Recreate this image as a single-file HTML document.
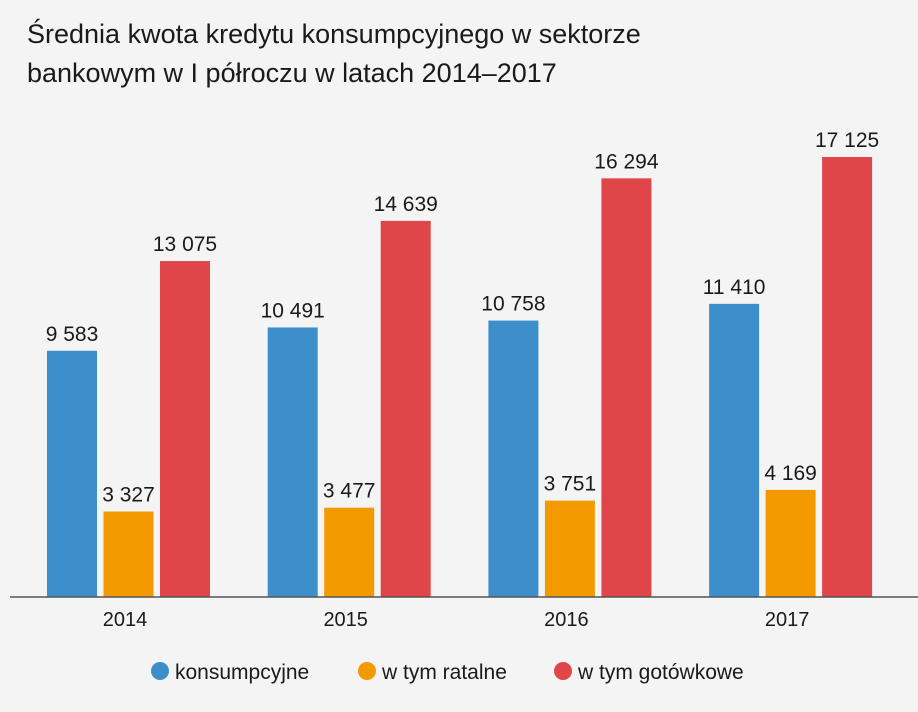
<!DOCTYPE html>
<html><head><meta charset="utf-8">
<style>
body{margin:0;background:#f4f4f4;}
svg{display:block;font-family:"Liberation Sans",sans-serif;}
</style></head>
<body>
<svg width="918" height="712" viewBox="0 0 918 712">
<rect width="918" height="712" fill="#f4f4f4"/>
<text x="27" y="43" font-size="27" fill="#1a1a1a">Średnia kwota kredytu konsumpcyjnego w sektorze</text>
<text x="27" y="82" font-size="27" fill="#1a1a1a">bankowym w I półroczu w latach 2014–2017</text>
<g id="plot"></g>
<line x1="10" y1="597" x2="918" y2="597" stroke="#555" stroke-width="1.5"/>
<g>
<g><circle cx="160" cy="671" r="9" fill="#3d8fcc"/><text x="175" y="679" font-size="21" fill="#1a1a1a">konsumpcyjne</text></g>
<g><circle cx="367" cy="671" r="9" fill="#f29a00"/><text x="382" y="679" font-size="21" fill="#1a1a1a">w tym ratalne</text></g>
<g><circle cx="563" cy="671" r="9" fill="#e0454a"/><text x="578" y="679" font-size="21" fill="#1a1a1a">w tym gotówkowe</text></g>
</g>
</svg>
<script>
const categories = ["2014","2015","2016","2017"];
const konsumpcyjne = [9583,10491,10758,11410];
const ratalne = [3327,3477,3751,4169];
const gotowkowe = [13075,14639,16294,17125];
const seriesNames = ["konsumpcyjne","ratalne","gotowkowe"];

const NS="http://www.w3.org/2000/svg";
const plot=document.getElementById("plot");
const baseY=597, scale=440/17125;
const groupX=i=>47+i*220.7;
const yPos=v=>baseY-v*scale;
const colors=["#3d8fcc","#f29a00","#e0454a"];
const fmt=v=>String(v).replace(/\B(?=(\d{3})+(?!\d))/g," ");
const series=[konsumpcyjne,ratalne,gotowkowe];
categories.forEach((c,i)=>{
  series.forEach((s,k)=>{
    const x=groupX(i)+k*56.5, w=50, v=s[i];
    const r=document.createElementNS(NS,"rect");
    r.setAttribute("x",x);r.setAttribute("y",yPos(v));
    r.setAttribute("width",w);r.setAttribute("height",baseY-yPos(v));
    r.setAttribute("fill",colors[k]);
    
    
    plot.appendChild(r);
    const t=document.createElementNS(NS,"text");
    t.setAttribute("x",x+w/2);t.setAttribute("y",yPos(v)-10);
    t.setAttribute("text-anchor","middle");t.setAttribute("font-size","21");
    t.setAttribute("fill","#1a1a1a");t.textContent=fmt(v);
    
    
    plot.appendChild(t);
  });
  const l=document.createElementNS(NS,"text");
  l.setAttribute("x",groupX(i)+78);l.setAttribute("y",626);
  l.setAttribute("text-anchor","middle");l.setAttribute("font-size","20");
  l.setAttribute("fill","#1a1a1a");l.textContent=c;
  
  
  plot.appendChild(l);
});
</script>
</body></html>
